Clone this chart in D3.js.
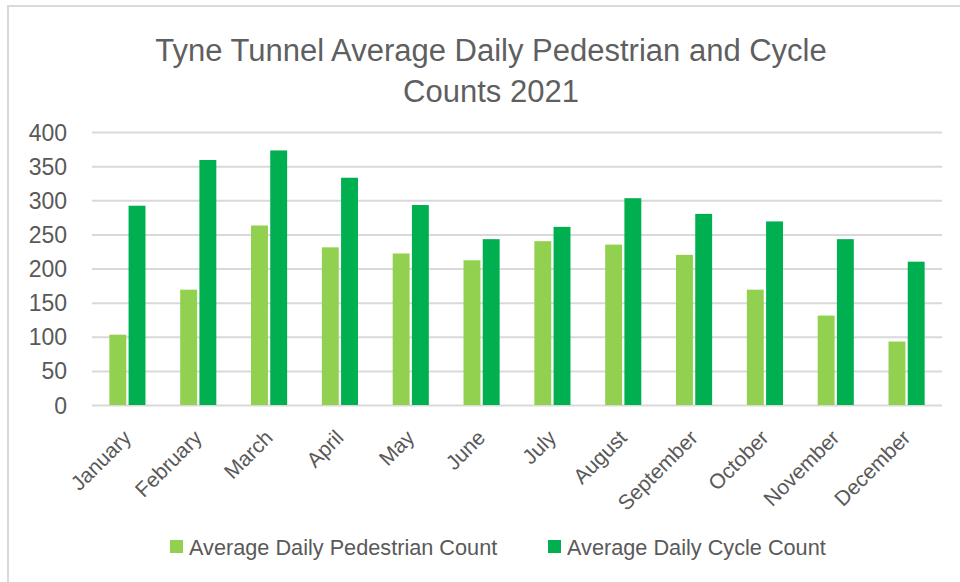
<!DOCTYPE html>
<html>
<head>
<meta charset="utf-8">
<script src="https://cdn.jsdelivr.net/npm/d3@7"></script>
<style>
  body { margin: 0; background: #fff; }
  svg { display: block; font-family: "Liberation Sans", Arial, sans-serif; }
</style>
</head>
<body>
<svg width="960" height="582"></svg>
<script>
let months = ['January', 'February', 'March', 'April', 'May', 'June', 'July',
        'August', 'September', 'October', 'November', 'December'];
let pedestrian = [103, 169, 263, 231, 222, 212, 240, 235, 220, 169, 131, 93];
let cycle = [292, 359, 373, 333, 293, 243, 261, 303, 280, 269, 243, 210];
let seriesNames = ['Average Daily Pedestrian Count', 'Average Daily Cycle Count'];
let yTicks = [0, 50, 100, 150, 200, 250, 300, 350, 400];

let width = 960;
let height = 582;
let margin = { left: 92, right: 18, top: 132, bottom: 177 };
let colors = ['#92d050', '#00b050'];
let textColor = '#595959';

let svg = d3.select('svg');

// chart area border (only top and left edges fall inside the picture)
svg.append('rect')
        .attr('x', 8)
        .attr('y', 6)
        .attr('width', 1000)
        .attr('height', 1000)
        .attr('fill', 'none')
        .attr('stroke', '#d9d9d9')
        .attr('stroke-width', 2)

let xScale = d3.scaleBand()
        .domain(months)
        .range([margin.left, width - margin.right])
        .paddingInner(0.49)
        .paddingOuter(0.245);

let subScale = d3.scaleBand()
        .domain([0, 1])
        .range([0, xScale.bandwidth()])
        .paddingInner(0.12);

let yScale = d3.scaleLinear()
        .domain([0, 400])
        .range([height - margin.bottom, margin.top]);

// gridlines + y labels
let yAxis = d3.axisLeft(yScale)
        .tickValues(yTicks)
        .tickSize(-(width - margin.left - margin.right))
        .tickPadding(25);

let gy = svg.append('g')
        .attr('transform', 'translate(' + margin.left + ',0)')
        .call(yAxis);
gy.select('.domain').remove();
gy.selectAll('.tick line').attr('stroke', '#d9d9d9').attr('stroke-width', 2);
gy.selectAll('.tick text')
        .attr('fill', textColor)
        .style('font-size', '23px')
        .attr('dy', '0.35em');

// bars
let groups = svg.append('g')
        .selectAll('g')
        .data(months)
        .enter()
        .append('g')
        .attr('transform', d => 'translate(' + xScale(d) + ',0)');

groups.selectAll('rect')
        .data((d, i) => [pedestrian[i], cycle[i]])
        .enter()
        .append('rect')
        .attr('x', (d, j) => subScale(j))
        .attr('width', subScale.bandwidth())
        .attr('y', d => yScale(d))
        .attr('height', d => yScale(0) - yScale(d))
        .attr('fill', (d, j) => colors[j]);

// x axis labels
let xAxis = d3.axisBottom(xScale).tickSize(0).tickPadding(0);
let gx = svg.append('g')
        .attr('transform', 'translate(0,' + (height - margin.bottom) + ')')
        .call(xAxis);
gx.select('.domain').remove();
gx.selectAll('.tick text')
        .attr('fill', textColor)
        .style('font-size', '21px')
        .style('text-anchor', 'end')
        .attr('y', 0)
        .attr('dy', 0)
        .attr('transform', 'translate(5,34) rotate(-45)');

// title
let titleLines = ['Tyne Tunnel Average Daily Pedestrian and Cycle', 'Counts 2021'];
svg.append('g')
        .selectAll('text')
        .data(titleLines)
        .enter()
        .append('text')
        .attr('x', 491)
        .attr('y', (d, i) => 61 + i * 41)
        .style('text-anchor', 'middle')
        .style('font-size', '31px')
        .attr('fill', '#5f5f5f')
        .text(d => d);

// legend
let legendX = [170, 548];
let legend = svg.append('g')
        .selectAll('g')
        .data(seriesNames)
        .enter()
        .append('g')
        .attr('transform', (d, i) => 'translate(' + legendX[i] + ',547)');
legend.append('rect')
        .attr('x', 0)
        .attr('y', -7)
        .attr('width', 13)
        .attr('height', 13)
        .attr('fill', (d, i) => colors[i]);
legend.append('text')
        .attr('x', 19)
        .attr('y', 0)
        .attr('dy', '0.35em')
        .style('font-size', '21.7px')
        .attr('fill', textColor)
        .text(d => d);
</script>
</body>
</html>
